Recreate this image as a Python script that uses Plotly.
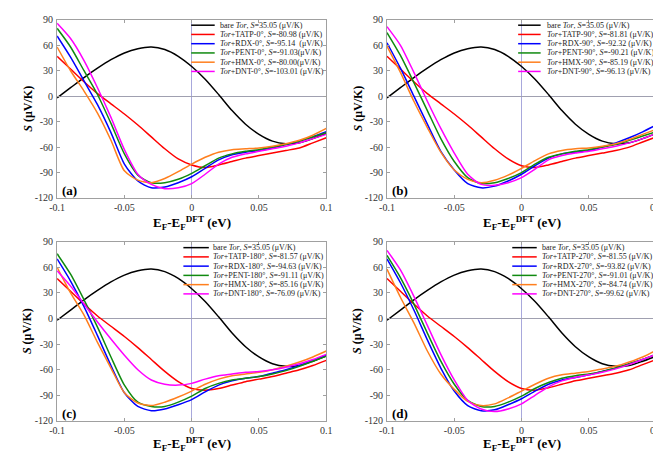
import plotly.graph_objects as go

# ---------------- data ----------------
E_values = [-0.1, -0.09, -0.08, -0.07, -0.06, -0.05, -0.04, -0.03, -0.02, -0.01,
            0.0, 0.01, 0.02, 0.03, 0.04, 0.05, 0.06, 0.07, 0.08, 0.09, 0.1]

bare_tor = [-2, 10, 22, 33, 43, 51, 56, 58, 55, 47, 35, 20, 2, -17, -33, -45, -53, -56, -55, -50, -44]

# panel (a) 0 deg
tatp_0 = [47, 32, 17, 3, -9, -21, -34, -48, -62, -74, -81, -84, -81, -77, -73, -70, -67, -64, -61, -55, -49]
rdx_0 = [71, 46, 18, -10, -43, -80, -100, -108, -107, -102, -95, -85, -75, -69, -66, -64, -61, -57, -53, -48, -42]
pent_0 = [80, 58, 30, 2, -32, -68, -93, -102, -102, -98, -91, -82, -73, -68, -65, -63, -60, -57, -53, -48, -43]
hmx_0 = [58, 30, 6, -20, -52, -88, -99, -102, -97, -89, -80, -72, -66, -63, -62, -61, -59, -56, -52, -46, -38]
dnt_0 = [86, 68, 42, 10, -25, -63, -92, -104, -109, -108, -103, -92, -80, -72, -68, -65, -62, -59, -55, -50, -45]

# panel (b) 90 deg
tatp_90 = [47, 32, 17, 3, -9, -21, -34, -48, -62, -74, -82, -84, -81, -77, -73, -70, -67, -64, -60, -54, -48]
rdx_90 = [63, 33, 0, -33, -65, -87, -103, -108, -106, -100, -92, -82, -73, -68, -66, -64, -60, -55, -49, -42, -34]
pent_90 = [75, 48, 16, -17, -50, -77, -96, -103, -102, -97, -90, -80, -72, -68, -65, -63, -60, -57, -52, -47, -42]
hmx_90 = [59, 28, -6, -37, -66, -87, -98, -102, -99, -93, -85, -76, -68, -64, -62, -61, -59, -56, -51, -45, -39]
dnt_90 = [82, 60, 28, -6, -38, -67, -92, -104, -105, -102, -96, -86, -75, -70, -67, -65, -62, -59, -55, -50, -44]

# panel (c) 180 deg
tatp_180 = [47, 32, 17, 3, -9, -21, -34, -48, -62, -74, -82, -84, -82, -78, -74, -71, -68, -64, -60, -55, -49]
rdx_180 = [70, 44, 14, -20, -55, -87, -103, -108, -106, -101, -95, -86, -78, -73, -70, -68, -64, -60, -55, -49, -43]
pent_180 = [76, 52, 22, -10, -45, -78, -98, -103, -103, -98, -91, -82, -76, -72, -70, -68, -65, -61, -56, -50, -44]
hmx_180 = [60, 30, 4, -28, -58, -87, -99, -102, -98, -92, -85, -77, -71, -67, -65, -63, -60, -56, -51, -45, -38]
dnt_180 = [56, 38, 17, -4, -24, -43, -60, -72, -77, -78, -76, -71, -67, -65, -63, -62, -60, -57, -53, -48, -42]

# panel (d) 270 deg
tatp_270 = [47, 32, 17, 3, -9, -21, -34, -48, -62, -74, -82, -84, -81, -77, -73, -70, -67, -64, -60, -54, -48]
rdx_270 = [70, 42, 10, -25, -58, -85, -102, -108, -107, -101, -94, -85, -77, -72, -69, -66, -62, -58, -53, -48, -42]
pent_270 = [74, 48, 17, -17, -50, -77, -96, -103, -103, -98, -91, -82, -75, -70, -67, -65, -62, -58, -53, -48, -42]
hmx_270 = [58, 25, -5, -38, -65, -83, -97, -102, -100, -93, -85, -77, -70, -66, -64, -62, -59, -56, -51, -45, -37]
dnt_270 = [80, 57, 26, -8, -42, -72, -96, -106, -109, -106, -100, -90, -80, -73, -69, -66, -63, -59, -54, -48, -42]

x_tickvals = [-0.1, -0.05, 0, 0.05, 0.1]
x_ticktext = ["-0.1", "-0.05", "0", "0.05", "0.1"]
y_tickvals = [-120, -90, -60, -30, 0, 30, 60, 90]
y_ticktext = ["-120", "-90", "-60", "-30", "0", "30", "60", "90"]

panel_letters = ["(a)", "(b)", "(c)", "(d)"]
angles = ["0", "90", "180", "270"]
names = ["TATP", "RDX", "PENT", "HMX", "DNT"]
S_bare = "35.05"
S_texts = [
    ["-80.98 (μV/K)", "-95.14  (μV/K)", "-91.03(μV/K)", "-80.00(μV/K)", "-103.01 (μV/K)"],
    ["-81.81 (μV/K)", "-92.32 (μV/K)", "-90.21 (μV/K)", "-85.19 (μV/K)", "-96.13 (μV/K)"],
    ["-81.57 (μV/K)", "-94.63 (μV/K)", "-91.11 (μV/K)", "-85.16 (μV/K)", "-76.09 (μV/K)"],
    ["-81.55 (μV/K)", "-93.82 (μV/K)", "-91.01 (μV/K)", "-84.74 (μV/K)", "-99.62 (μV/K)"],
]

panel_series = [
    [bare_tor, tatp_0, rdx_0, pent_0, hmx_0, dnt_0],
    [bare_tor, tatp_90, rdx_90, pent_90, hmx_90, dnt_90],
    [bare_tor, tatp_180, rdx_180, pent_180, hmx_180, dnt_180],
    [bare_tor, tatp_270, rdx_270, pent_270, hmx_270, dnt_270],
]

colors = ["#000000", "#ff0000", "#0000ff", "#108a10", "#ff7f1e", "#ff00ff"]

# ---------------- layout geometry (pixels) ----------------
W, H = 661, 453
FONT = "Liberation Serif, Times New Roman, serif"

def fx(p):
    return p / W

def fy(p):
    return 1 - p / H

geo = [
    dict(x0=42, x1=317, y0=6, y1=189, leg_l0=179, leg_l1=203, leg_t=206, leg_y0=11.5, tgap=26),
    dict(x0=379, x1=654, y0=6, y1=189, leg_l0=513, leg_l1=536, leg_t=540, leg_y0=11.5, tgap=26),
    dict(x0=42, x1=317, y0=234, y1=418, leg_l0=171, leg_l1=197, leg_t=199, leg_y0=240, tgap=24),
    dict(x0=379, x1=654, y0=234, y1=418, leg_l0=507, leg_l1=532, leg_t=535, leg_y0=240, tgap=24),
]
row_gap = 9.5

fig = go.Figure()
annotations = []
shapes = []

for i in range(4):
    g = geo[i]
    xa = "x" if i == 0 else f"x{i+1}"
    ya = "y" if i == 0 else f"y{i+1}"
    for k, s in enumerate(panel_series[i]):
        fig.add_trace(go.Scatter(
            x=E_values, y=s, mode="lines",
            line=dict(color=colors[k], width=1.5, shape="spline", smoothing=0.7),
            xaxis=xa, yaxis=ya, showlegend=False, hoverinfo="skip"))

    axis_common = dict(showgrid=False, showline=True, linecolor="#a0a0a0", linewidth=1,
                       mirror="ticks", ticks="inside", ticklen=3, tickcolor="#a0a0a0",
                       tickfont=dict(family=FONT, size=10, color="#333333"))
    fig.layout[("xaxis" if i == 0 else f"xaxis{i+1}")] = dict(
        domain=[fx(g["x0"]), fx(g["x1"])], anchor=ya, range=[-0.1, 0.1],
        tickvals=x_tickvals, ticktext=x_ticktext,
        zeroline=True, zerolinecolor="#a8a8dc", zerolinewidth=1,
        ticklabelstandoff=0, **axis_common)
    fig.layout[("yaxis" if i == 0 else f"yaxis{i+1}")] = dict(
        domain=[fy(g["y1"]), fy(g["y0"])], anchor=xa, range=[-120, 90],
        tickvals=y_tickvals, ticktext=y_ticktext,
        zeroline=True, zerolinecolor="#a0a0b0", zerolinewidth=1,
        ticklabelstandoff=1, **axis_common)

    # panel letter
    annotations.append(dict(text="<b>" + panel_letters[i] + "</b>", xref="paper", yref="paper",
                            x=fx(g["x0"] + 3), y=fy(g["y1"] - 8), xanchor="left", yanchor="middle",
                            showarrow=False, font=dict(family=FONT, size=13, color="#000000")))
    # axis titles
    xc = (g["x0"] + g["x1"]) / 2
    annotations.append(dict(text="<b>E<sub>F</sub>-E<sub>F</sub><sup>DFT</sup> (eV)</b>",
                            xref="paper", yref="paper", x=fx(xc), y=fy(g["y1"] + g["tgap"]),
                            xanchor="center", yanchor="middle", showarrow=False,
                            font=dict(family=FONT, size=13, color="#000000")))
    yc = (g["y0"] + g["y1"]) / 2
    annotations.append(dict(text="<b><i>S</i> (μV/K)</b>", textangle=-90,
                            xref="paper", yref="paper", x=fx(g["x0"] - 30), y=fy(yc),
                            xanchor="center", yanchor="middle", showarrow=False,
                            font=dict(family=FONT, size=12, color="#000000")))

    # legend (drawn manually to match the compact spacing)
    labels = ["bare <i>Tor</i>, <i>S</i>=" + S_bare + " (μV/K)"]
    for n, st in zip(names, S_texts[i]):
        labels.append("<i>Tor</i>+" + n + "-" + angles[i] + "°, <i>S</i>=" + st)
    for k, lab in enumerate(labels):
        yy = g["leg_y0"] + k * row_gap
        shapes.append(dict(type="line", xref="paper", yref="paper",
                           x0=fx(g["leg_l0"]), x1=fx(g["leg_l1"]), y0=fy(yy), y1=fy(yy),
                           line=dict(color=colors[k], width=1.5)))
        annotations.append(dict(text=lab, xref="paper", yref="paper",
                                x=fx(g["leg_t"]), y=fy(yy), xanchor="left", yanchor="middle",
                                showarrow=False,
                                font=dict(family=FONT, size=8, color="#222222")))

fig.update_layout(
    width=W, height=H, margin=dict(l=0, r=0, t=0, b=0),
    paper_bgcolor="white", plot_bgcolor="white",
    annotations=annotations, shapes=shapes, showlegend=False,
)

fig.write_html("out.html")
